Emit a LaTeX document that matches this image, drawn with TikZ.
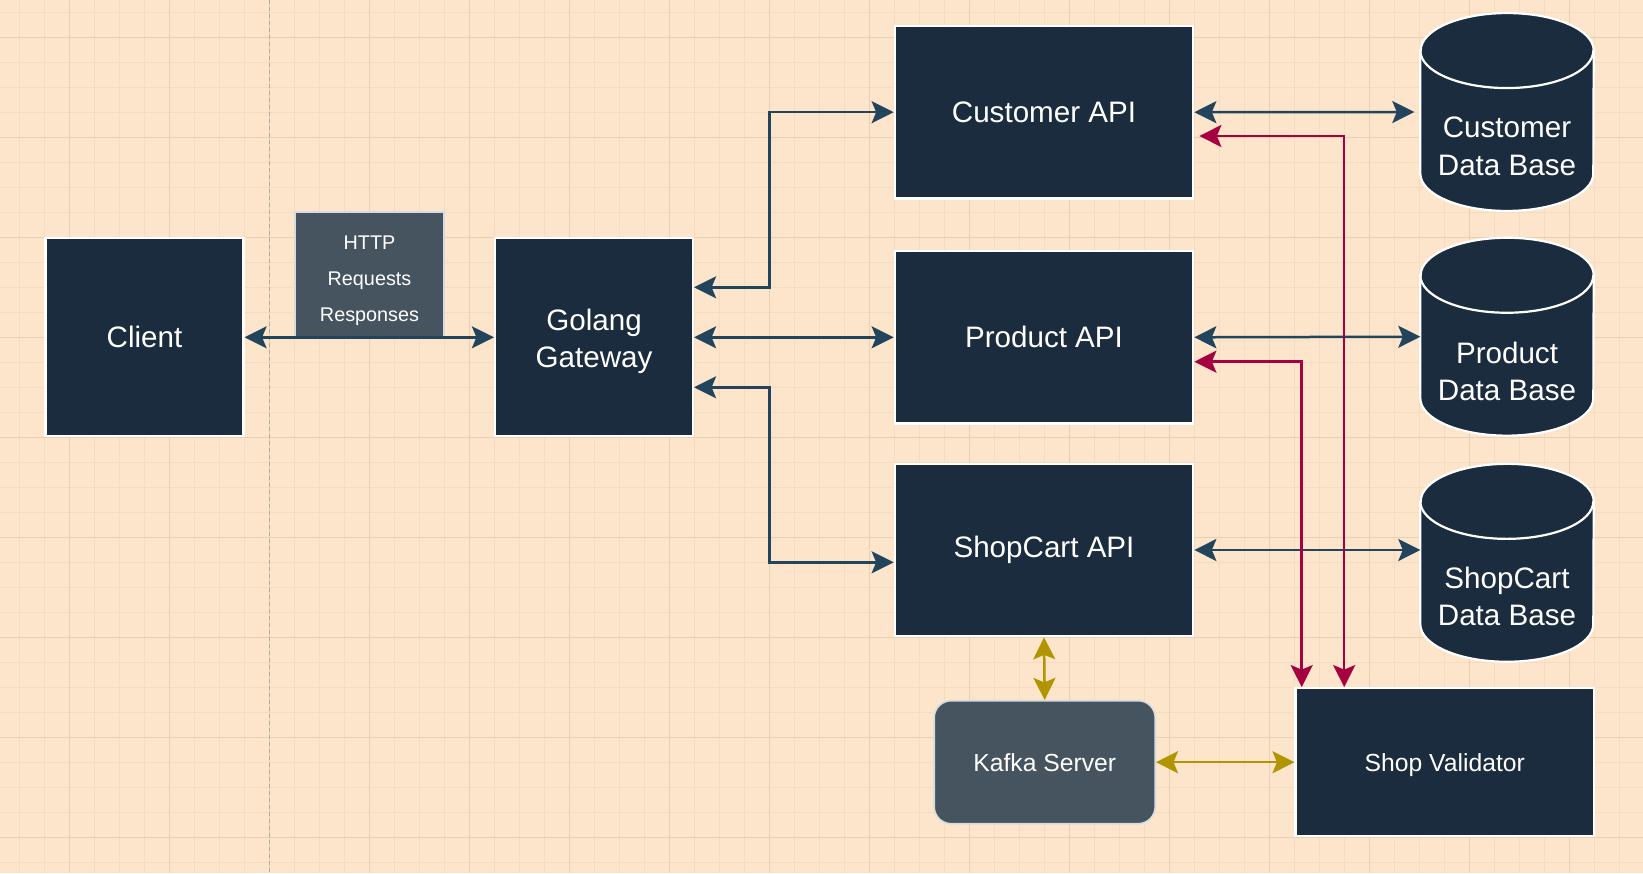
\documentclass[tikz,border=0pt]{standalone}
\usepackage{fontspec}
\setmainfont{Liberation Sans}
\usetikzlibrary{arrows.meta}
\definecolor{bgc}{HTML}{FCE5CB}
\definecolor{minorc}{HTML}{F5DCC0}
\definecolor{majorc}{HTML}{E6CFB3}
\definecolor{pagec}{HTML}{AFAAA3}
\definecolor{boxc}{HTML}{1A2C3D}
\definecolor{greyc}{HTML}{45545E}
\definecolor{greyline}{HTML}{D5DCE0}
\definecolor{darkarr}{HTML}{23445D}
\definecolor{redarr}{HTML}{A50040}
\definecolor{yelarr}{HTML}{B09500}
\tikzset{
  darkbox/.style={draw=white, line width=2.2pt, fill=boxc, text=white, inner sep=0pt, align=center,
    font=\fontsize{29.6}{37}\selectfont},
  greybox/.style={draw=greyline, line width=1.6pt, fill=greyc, text=white, inner sep=0pt, align=center},
  boxlabel/.style={text=white, align=center, inner sep=0pt},
  dbarea/.style={inner sep=0pt, minimum width=173pt, minimum height=197.5pt},
  dblabel/.style={text=white, align=center, inner sep=0pt, font=\fontsize{29.6}{37.5}\selectfont},
  cylfill/.style={fill=boxc, draw=white, line width=2.2pt},
  darkconn/.style={draw=darkarr, line width=2.5pt, {Stealth[length=22pt,width=22pt,inset=4.5pt]}-{Stealth[length=22pt,width=22pt,inset=4.5pt]}},
  redconn/.style={draw=redarr, line width=2.5pt, {Stealth[length=22pt,width=22pt,inset=4.5pt]}-{Stealth[length=22pt,width=22pt,inset=4.5pt]}},
  yelconn/.style={draw=yelarr, line width=2.5pt, {Stealth[length=22pt,width=22pt,inset=4.5pt]}-{Stealth[length=22pt,width=22pt,inset=4.5pt]}},
}
\newcommand{\cylinderat}[1]{%
  \path[cylfill] ([yshift=-37.5pt]#1.north west) -- ([yshift=37.5pt]#1.south west)
     arc[start angle=180, end angle=360, x radius=86.5pt, y radius=37.5pt]
     -- ([yshift=-37.5pt]#1.north east)
     arc[start angle=0, end angle=180, x radius=86.5pt, y radius=37.5pt] -- cycle;
  \draw[white, line width=2.2pt] ([yshift=-37.5pt]#1.north west)
     arc[start angle=180, end angle=360, x radius=86.5pt, y radius=37.5pt];
}
\begin{document}
\begin{tikzpicture}[x=1pt,y=-1pt]
\useasboundingbox (0,0) rectangle (1643,873);
\fill[bgc] (0,0) rectangle (1643,873);
% grid
\foreach \i in {0,...,66} {\draw[minorc, line width=1pt] ({19.3+25*\i},0) -- ++(0,873);}
\foreach \i in {0,...,35} {\draw[minorc, line width=1pt] (0,{12.3+25*\i}) -- ++(1643,0);}
\foreach \i in {0,...,16} {\draw[majorc, line width=1.2pt] ({69.3+100*\i},0) -- ++(0,873);}
\foreach \i in {0,...,8} {\draw[majorc, line width=1.2pt] (0,{37.3+100*\i}) -- ++(1643,0);}
\draw[pagec, line width=1pt, dash pattern=on 4pt off 3pt] (269.3,0) -- (269.3,873);

% nodes
\node[darkbox, minimum width=198pt, minimum height=198pt] (client) at (144.5,337.3) {Client};
\node[greybox, minimum width=149pt, minimum height=125pt] (http) at (369.5,274.5) {};
\node[boxlabel, font=\fontsize{19.8}{36}\selectfont] (httptxt) at (369.5,281) {HTTP\\Requests\\Responses};
\node[darkbox, minimum width=198pt, minimum height=198pt] (gw) at (594,337.3) {};
\node[boxlabel, font=\fontsize{29.6}{36.7}\selectfont] (gwt) at ([yshift=-4pt]gw.center) {Golang\\Gateway};

\node[darkbox, minimum width=298.5pt, minimum height=172.5pt] (capi) at (1044,112.2) {Customer API};
\node[darkbox, minimum width=298.5pt, minimum height=172.5pt] (papi) at (1044,337.3) {Product API};
\node[darkbox, minimum width=298.5pt, minimum height=172.5pt] (sapi) at (1044,550) {ShopCart API};

\node[dbarea] (cdb) at (1507,112) {};
\node[dbarea] (pdb) at (1507,336.7) {};
\node[dbarea] (sdb) at (1507,562.8) {};
\cylinderat{cdb}
\cylinderat{pdb}
\cylinderat{sdb}
\node[dblabel] (cdbt) at ([yshift=-34.5pt]cdb.center) {Customer\\Data Base};
\node[dblabel] (pdbt) at ([yshift=-34.5pt]pdb.center) {Product\\Data Base};
\node[dblabel] (sdbt) at ([yshift=-33.5pt]sdb.center) {ShopCart\\Data Base};

\node[greybox, rounded corners=17pt, minimum width=221pt, minimum height=123pt,
      font=\fontsize{24.7}{30}\selectfont] (kafka) at (1044.7,762.2) {Kafka Server};
\node[darkbox, minimum width=298.5pt, minimum height=148pt] (sv) at (1444.8,762.2) {};
\node[boxlabel, font=\fontsize{24.7}{30}\selectfont] (svt) at ([yshift=-3pt]sv.center) {Shop Validator};

% connectors
\draw[darkconn] (client.east) -- (gw.west);
\draw[darkconn] ([yshift=50pt]gw.east) -- ++(75.3,0) |- (capi.west);
\draw[darkconn] (gw.east) -- (papi.west);
\draw[darkconn] ([yshift=-50pt]gw.east) -- ++(75.3,0) |- ([yshift=-12.3pt]sapi.west);
\draw[darkconn] (capi.east) -- ([xshift=-6pt]cdb.west);
\draw[darkconn] (papi.east) -- (pdb.west);
\draw[darkconn] (sapi.east) -- ([yshift=12.8pt]sdb.west);

\draw[redconn] ([yshift=-23.8pt,xshift=5pt]capi.east) -| ([xshift=-100.6pt]sv.north);
\draw[redconn] ([yshift=-24.4pt]papi.east) -| ([xshift=-143.1pt]sv.north);

\draw[yelconn] (sapi.south) -- (kafka.north);
\draw[yelconn] (kafka.east) -- (sv.west);
\end{tikzpicture}
\end{document}
